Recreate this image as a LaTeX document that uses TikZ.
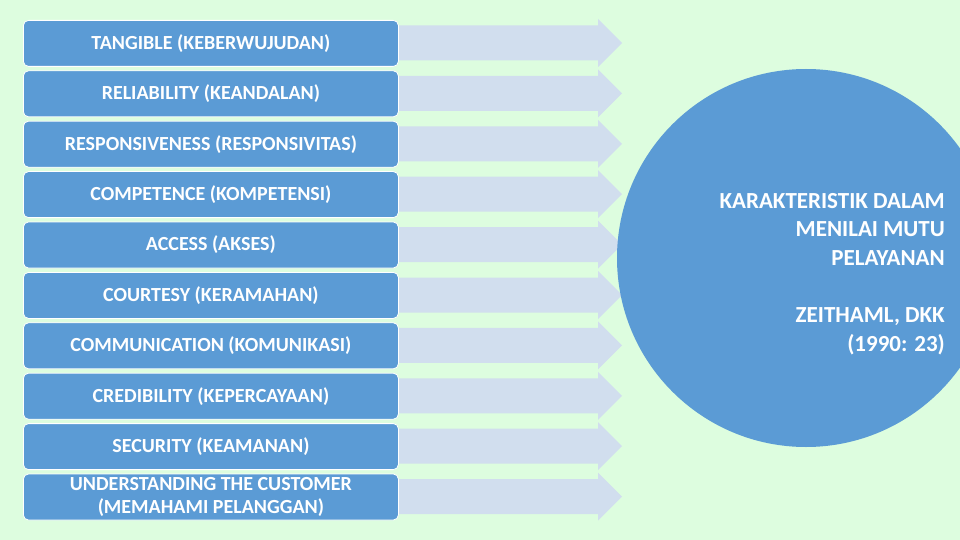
\documentclass[tikz,border=0pt]{standalone}
\usepackage{fontspec}
\setmainfont{Carlito}
\definecolor{bg}{RGB}{221,253,223}
\definecolor{boxblue}{RGB}{91,155,213}
\definecolor{arrowblue}{RGB}{209,222,238}
\begin{document}
\begin{tikzpicture}[x=1pt,y=-1pt,
  itembox/.style={draw=white, line width=0.8pt, fill=boxblue, rounded corners=5pt,
    minimum width=375pt, minimum height=46pt, inner sep=0pt, text=white,
    font=\fontsize{20}{23}\selectfont\bfseries, align=center, anchor=north west},
  arrowshape/.style={fill=arrowblue},
  circtext/.style={text=white, font=\fontsize{23}{28.5}\selectfont\bfseries, align=right, inner sep=0pt},
]
\clip (0,0) rectangle (960,540);
\fill[bg] (0,0) rectangle (960,540);
\foreach \i/\t in {0/{TANGIBLE (KEBERWUJUDAN)},
                   1/{RELIABILITY (KEANDALAN)},
                   2/{RESPONSIVENESS (RESPONSIVITAS)},
                   3/{COMPETENCE (KOMPETENSI)},
                   4/{ACCESS (AKSES)},
                   5/{COURTESY (KERAMAHAN)},
                   6/{COMMUNICATION (KOMUNIKASI)},
                   7/{CREDIBILITY (KEPERCAYAAN)},
                   8/{SECURITY (KEAMANAN)},
                   9/{UNDERSTANDING THE CUSTOMER\\(MEMAHAMI PELANGGAN)}} {
  \pgfmathsetmacro\ytop{20+50.4*\i}
  \fill[arrowshape] (395,\ytop+5.5) -- (598,\ytop+5.5) -- (598,\ytop-1) -- (622,\ytop+23)
     -- (598,\ytop+47) -- (598,\ytop+40.5) -- (395,\ytop+40.5) -- cycle;
  \node[itembox] (b\i) at (23,\ytop) {\t};
}
\node[circle, fill=boxblue, minimum size=378pt, inner sep=0pt] (c) at (806,258) {};
\node[circtext, anchor=base east] (t1) at (945,265) {KARAKTERISTIK DALAM\\MENILAI MUTU\\PELAYANAN};
\node[circtext, anchor=base east] (t2) at (945,351) {ZEITHAML, DKK\\(1990: 23)};
\end{tikzpicture}
\end{document}
